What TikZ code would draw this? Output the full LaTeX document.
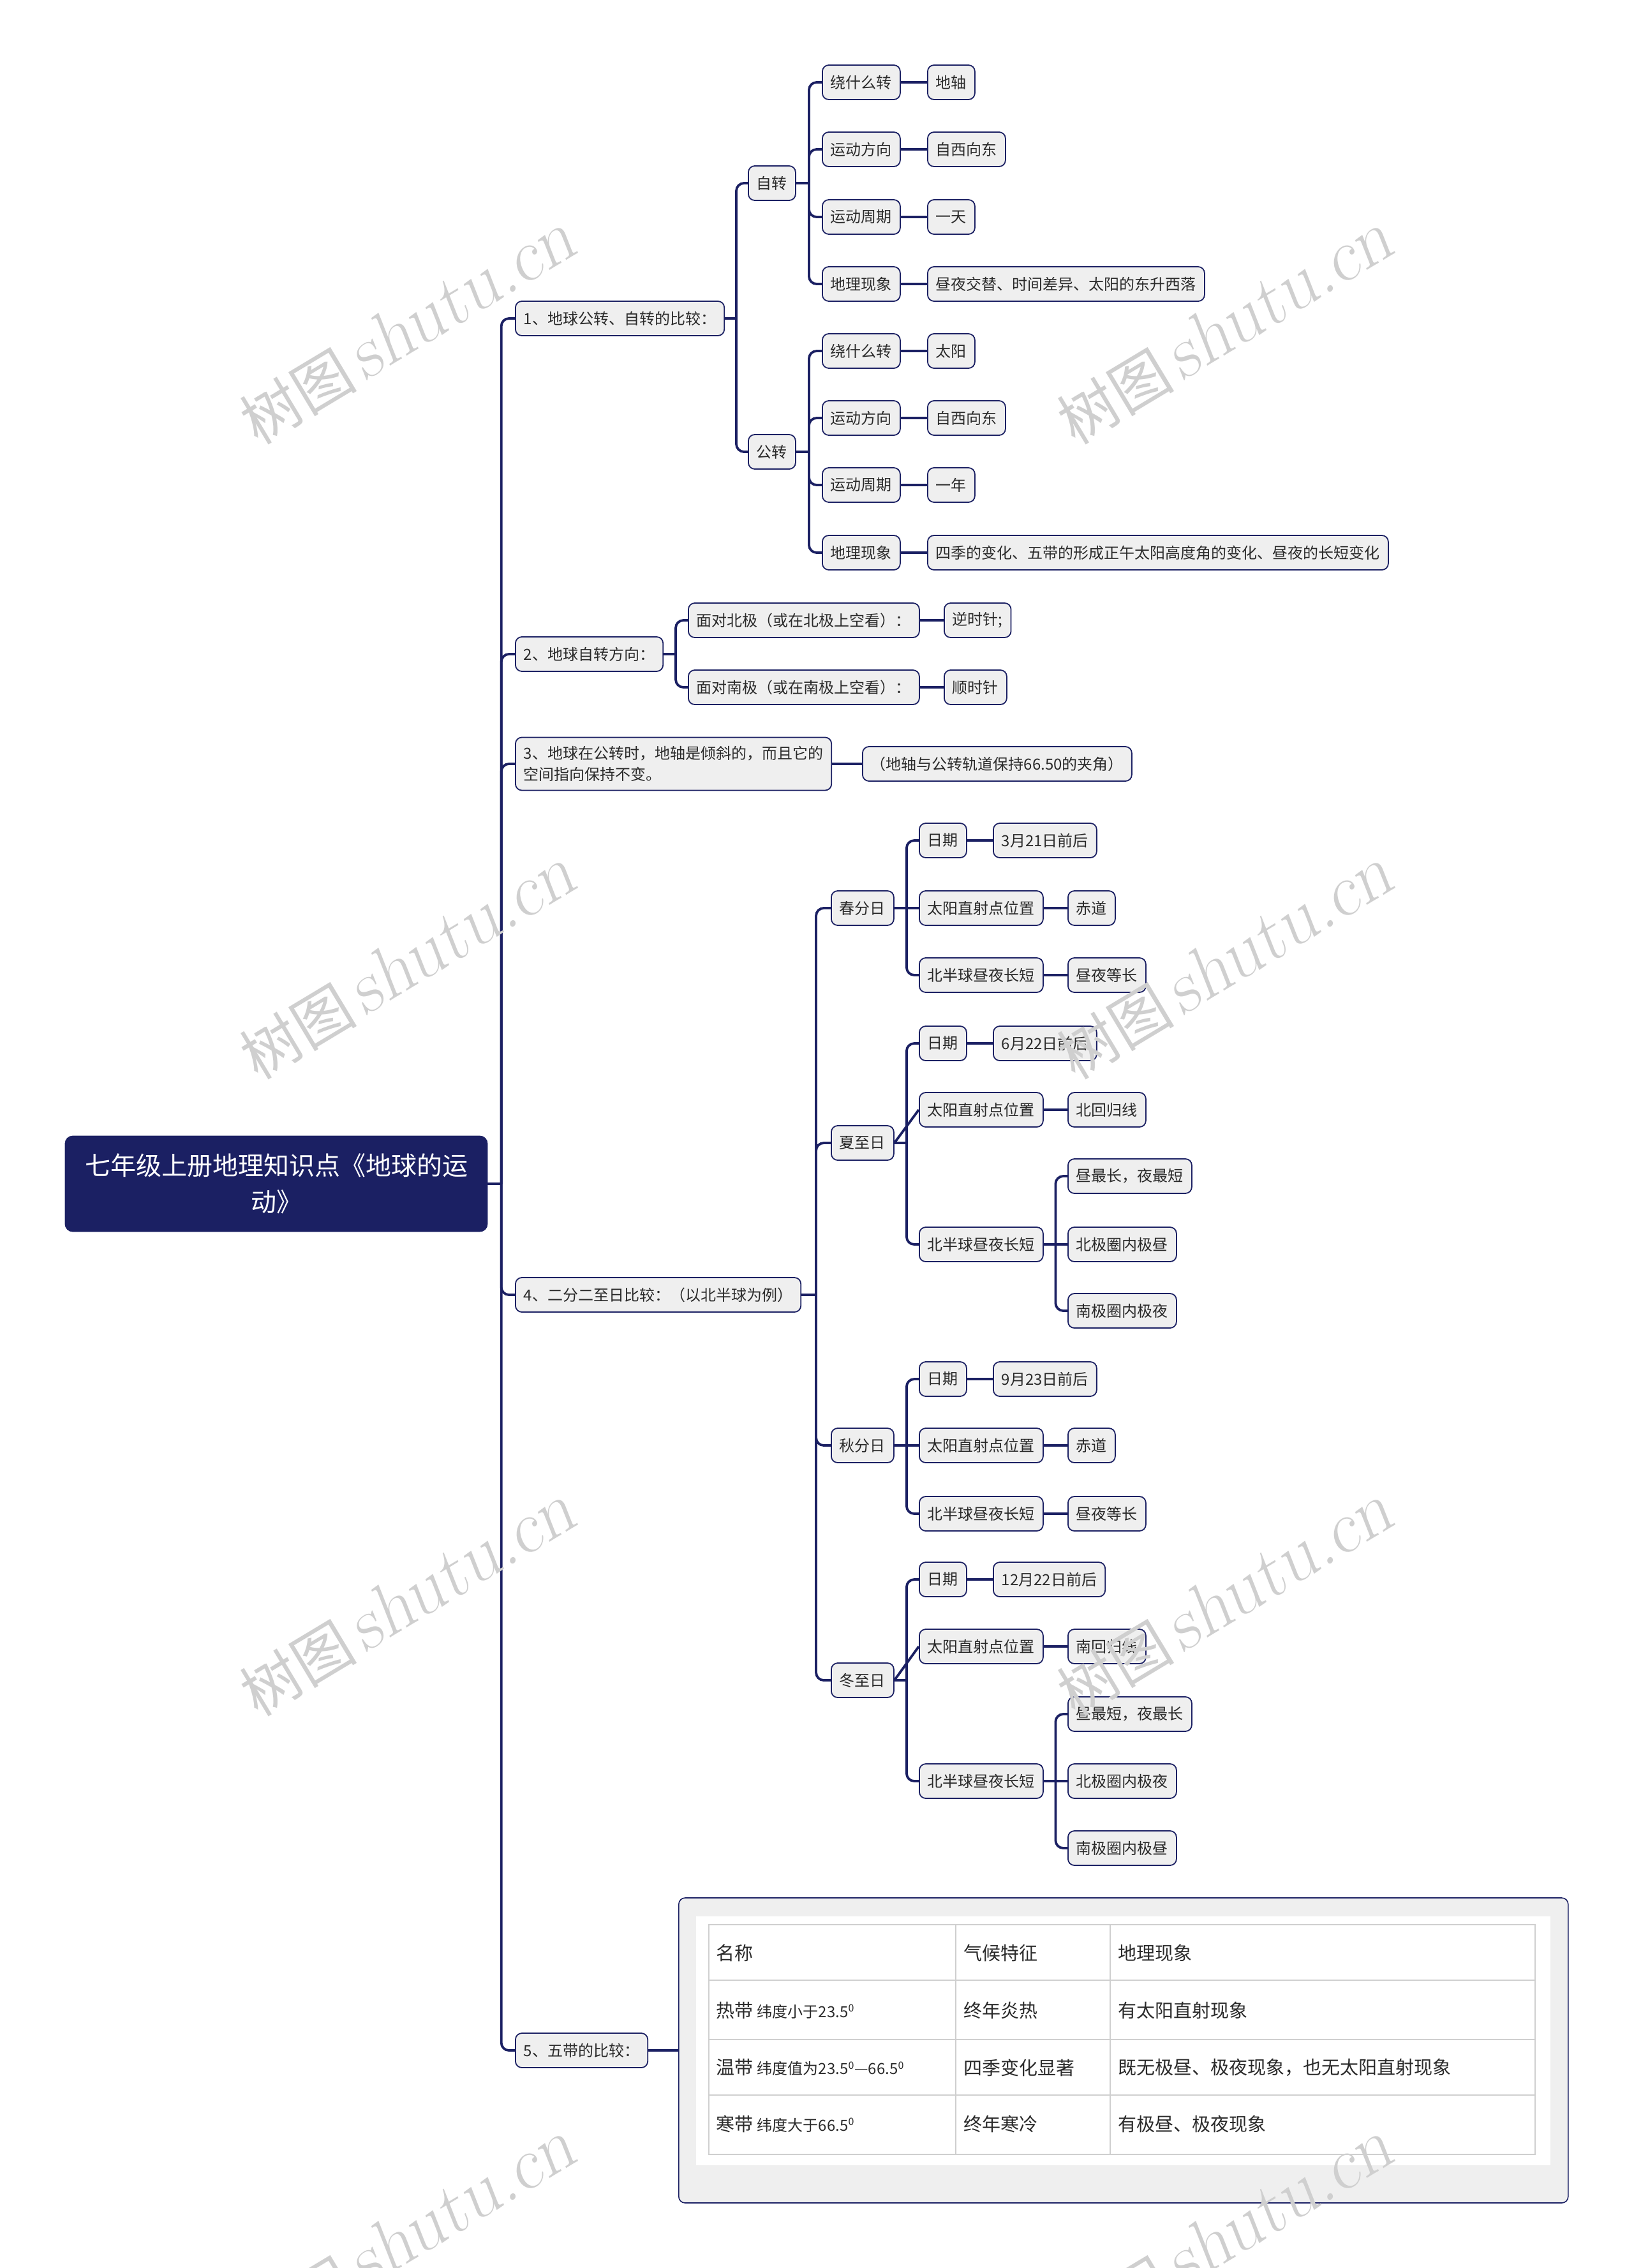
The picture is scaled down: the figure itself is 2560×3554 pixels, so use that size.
\documentclass[tikz,border=0pt]{standalone}
\usepackage{fontspec}
\newfontfamily\cjk{Noto Sans CJK SC}
\usepackage{xcolor}
\definecolor{navy}{HTML}{1B2063}
\definecolor{nodefill}{HTML}{EFEFEF}
\definecolor{inktext}{HTML}{2A2A2A}
\definecolor{gridline}{HTML}{CFCFCF}
\definecolor{wmgray}{HTML}{CFCFCF}
\usepackage{tikz}
\usetikzlibrary{calc,backgrounds}

\newcommand\mmstem[2]{\draw[conn] let \p1=(#1.east), \p2=(#2.west) in (\p1) -- ({(\x1+\x2)/2},\y1);}
\newcommand\mmfork[2]{\draw[conn] let \p1=(#1.east), \p2=(#2.west) in ({(\x1+\x2)/2},\y1) |- (\p2);}
\newcommand\mmjoin[2]{\draw[conn] (#1.east) -- (#2.west);}
\newcommand\sm[1]{{\fontsize{12}{14}\selectfont #1}}

\begin{document}
\begin{tikzpicture}[x=0.5pt, y=-0.5pt,
  T/.style={draw=navy, fill=nodefill, line width=0.9pt, rounded corners=5pt,
    anchor=west, minimum height=27pt, inner xsep=6.5pt, inner ysep=3pt,
    text=inktext, font=\cjk\fontsize{12}{16.5}\selectfont, align=left},
  R/.style={draw=navy, fill=navy, rounded corners=6pt, text=white,
    font=\cjk\fontsize{20}{28.5}\selectfont, align=center,
    minimum width=331pt, minimum height=75pt},
  wide/.style={minimum width=96pt},
  conn/.style={navy, line width=1.9pt, rounded corners=6pt},
  tbl/.style={draw=navy, line width=0.8pt, fill=nodefill, rounded corners=5pt,
    anchor=west, minimum width=697pt, minimum height=239pt},
  cell/.style={anchor=west, inner sep=0pt, text=inktext,
    font=\cjk\fontsize{14.5}{17}\selectfont},
  wm/.style={rotate=31, text=wmgray, inner sep=0pt}
]
  \useasboundingbox (0,0) rectangle (2560,3554);

  % root and first level
  \node[R] (root) at (433,1855) {七年级上册地理知识点《地球的运\\动》};
  \node[T] (n1) at (807,499) {1、地球公转、自转的比较：};
  \node[T] (n2) at (807,1025) {2、地球自转方向：};
  \node[T, minimum height=41.5pt] (n3) at (807,1197) {3、地球在公转时，地轴是倾斜的，而且它的\\空间指向保持不变。};
  \node[T] (n4) at (807,2029) {4、二分二至日比较：（以北半球为例）};
  \node[T] (n5) at (807,3213) {5、五带的比较：};

  % 1: rotation and revolution
  \node[T] (zz) at (1172,287) {自转};
  \node[T] (gz) at (1172,708) {公转};
  \node[T] (zz1) at (1288,129) {绕什么转};
  \node[T] (zz2) at (1288,234) {运动方向};
  \node[T] (zz3) at (1288,340) {运动周期};
  \node[T] (zz4) at (1288,445) {地理现象};
  \node[T] (zz1v) at (1453,129) {地轴};
  \node[T] (zz2v) at (1453,234) {自西向东};
  \node[T] (zz3v) at (1453,340) {一天};
  \node[T] (zz4v) at (1453,445) {昼夜交替、时间差异、太阳的东升西落};
  \node[T] (gz1) at (1288,550) {绕什么转};
  \node[T] (gz2) at (1288,655) {运动方向};
  \node[T] (gz3) at (1288,760) {运动周期};
  \node[T] (gz4) at (1288,866) {地理现象};
  \node[T] (gz1v) at (1453,550) {太阳};
  \node[T] (gz2v) at (1453,655) {自西向东};
  \node[T] (gz3v) at (1453,760) {一年};
  \node[T] (gz4v) at (1453,866) {四季的变化、五带的形成正午太阳高度角的变化、昼夜的长短变化};

  % 2: direction
  \node[T] (n2a) at (1078,972) {面对北极（或在北极上空看）：};
  \node[T] (n2b) at (1078,1077) {面对南极（或在南极上空看）：};
  \node[T] (n2av) at (1479,972) {逆时针;};
  \node[T] (n2bv) at (1479,1077) {顺时针};

  % 3: tilted axis
  \node[T] (n3v) at (1351,1197) {（地轴与公转轨道保持66.50的夹角）};

  % 4: equinoxes and solstices
  \node[T] (cf) at (1302,1423) {春分日};
  \node[T] (xz) at (1302,1791) {夏至日};
  \node[T] (qf) at (1302,2265) {秋分日};
  \node[T] (dz) at (1302,2633) {冬至日};

  \node[T] (cf1) at (1440,1317) {日期};
  \node[T] (cf2) at (1440,1423) {太阳直射点位置};
  \node[T, wide] (cf3) at (1440,1528) {北半球昼夜长短};
  \node[T] (cf1v) at (1556,1317) {3月21日前后};
  \node[T] (cf2v) at (1673,1423) {赤道};
  \node[T] (cf3v) at (1673,1528) {昼夜等长};

  \node[T] (xz1) at (1440,1635) {日期};
  \node[T] (xz2) at (1440,1739) {太阳直射点位置};
  \node[T, wide] (xz3) at (1440,1950) {北半球昼夜长短};
  \node[T] (xz1v) at (1556,1635) {6月22日前后};
  \node[T] (xz2v) at (1673,1739) {北回归线};
  \node[T] (xz3a) at (1673,1843) {昼最长，夜最短};
  \node[T] (xz3b) at (1673,1950) {北极圈内极昼};
  \node[T] (xz3c) at (1673,2054) {南极圈内极夜};

  \node[T] (qf1) at (1440,2161) {日期};
  \node[T] (qf2) at (1440,2265) {太阳直射点位置};
  \node[T, wide] (qf3) at (1440,2372) {北半球昼夜长短};
  \node[T] (qf1v) at (1556,2161) {9月23日前后};
  \node[T] (qf2v) at (1673,2265) {赤道};
  \node[T] (qf3v) at (1673,2372) {昼夜等长};

  \node[T] (dz1) at (1440,2475) {日期};
  \node[T] (dz2) at (1440,2580) {太阳直射点位置};
  \node[T, wide] (dz3) at (1440,2791) {北半球昼夜长短};
  \node[T] (dz1v) at (1556,2475) {12月22日前后};
  \node[T] (dz2v) at (1673,2580) {南回归线};
  \node[T] (dz3a) at (1673,2686) {昼最短，夜最长};
  \node[T] (dz3b) at (1673,2791) {北极圈内极夜};
  \node[T] (dz3c) at (1673,2896) {南极圈内极昼};

  % 5: the five zones table
  \node[tbl] (tab) at (1063,3213) {};
  \fill[white] (1091,3003) rectangle (2430,3393);
  \draw[gridline, line width=1.2pt] (1111,3016) rectangle (2406,3376);
  \foreach \cx in {1498,1740} \draw[gridline, line width=1.2pt] (\cx,3016) -- (\cx,3376);
  \foreach \ry in {3103,3196,3283} \draw[gridline, line width=1.2pt] (1111,\ry) -- (2406,\ry);
  \node[cell] (t11) at (1122,3060) {名称};
  \node[cell] (t12) at (1510,3060) {气候特征};
  \node[cell] (t13) at (1752,3060) {地理现象};
  \node[cell] (t21) at (1122,3150) {热带 \sm{纬度小于23.5\textsuperscript{0}}};
  \node[cell] (t22) at (1510,3150) {终年炎热};
  \node[cell] (t23) at (1752,3150) {有太阳直射现象};
  \node[cell] (t31) at (1122,3240) {温带 \sm{纬度值为23.5\textsuperscript{0}—66.5\textsuperscript{0}}};
  \node[cell] (t32) at (1510,3240) {四季变化显著};
  \node[cell] (t33) at (1752,3240) {既无极昼、极夜现象，也无太阳直射现象};
  \node[cell] (t41) at (1122,3328) {寒带 \sm{纬度大于66.5\textsuperscript{0}}};
  \node[cell] (t42) at (1510,3328) {终年寒冷};
  \node[cell] (t43) at (1752,3328) {有极昼、极夜现象};

  % connectors
  \begin{scope}[on background layer]
    \fill[white] (0,0) rectangle (2560,3554);
    \mmstem{root}{n1}
    \foreach \c in {n1,n2,n3,n4,n5} {\mmfork{root}{\c}}
    \mmstem{n1}{zz} \mmfork{n1}{zz} \mmfork{n1}{gz}
    \mmstem{zz}{zz1}
    \foreach \c in {zz1,zz2,zz3,zz4} {\mmfork{zz}{\c}}
    \mmstem{gz}{gz1}
    \foreach \c in {gz1,gz2,gz3,gz4} {\mmfork{gz}{\c}}
    \foreach \c in {zz1,zz2,zz3,zz4,gz1,gz2,gz3,gz4} {\mmjoin{\c}{\c v}}
    \mmstem{n2}{n2a} \mmfork{n2}{n2a} \mmfork{n2}{n2b}
    \mmjoin{n2a}{n2av} \mmjoin{n2b}{n2bv}
    \mmjoin{n3}{n3v}
    \mmstem{n4}{cf}
    \foreach \c in {cf,xz,qf,dz} {\mmfork{n4}{\c}}
    \foreach \s in {cf,xz,qf,dz} {
      \mmstem{\s}{\s1} \mmfork{\s}{\s1} \mmjoin{\s}{\s2} \mmfork{\s}{\s3}
      \mmjoin{\s1}{\s1v} \mmjoin{\s2}{\s2v}
    }
    \mmjoin{cf3}{cf3v} \mmjoin{qf3}{qf3v}
    \mmstem{xz3}{xz3a} \mmfork{xz3}{xz3a} \mmjoin{xz3}{xz3b} \mmfork{xz3}{xz3c}
    \mmstem{dz3}{dz3a} \mmfork{dz3}{dz3a} \mmjoin{dz3}{dz3b} \mmfork{dz3}{dz3c}
    \mmjoin{n5}{tab}
  \end{scope}

  % watermark
  \foreach \wx in {638,1919} \foreach \wy in {515,1510,2508,3505}
    \node[wm] (wm-\wx-\wy) at (\wx,\wy) {{\cjk\fontsize{46}{46}\selectfont 树图}\hspace{6pt}{\fontsize{58}{58}\selectfont\slshape shutu.cn}};
\end{tikzpicture}
\end{document}
